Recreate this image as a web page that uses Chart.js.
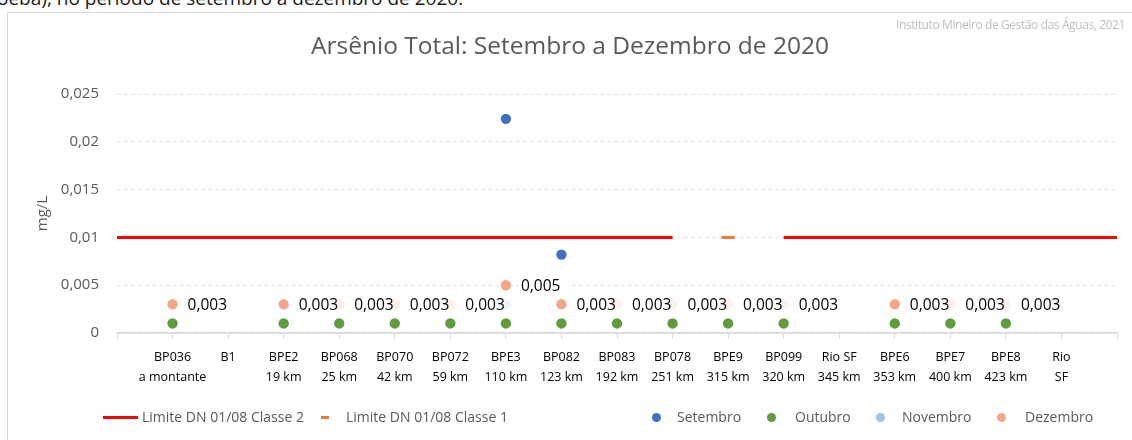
<!DOCTYPE html>
<html><head><meta charset="utf-8">
<script src="https://cdn.jsdelivr.net/npm/chart.js@4.4.0/dist/chart.umd.min.js"></script>
<style>
html,body{margin:0;padding:0;width:1132px;height:440px;overflow:hidden;background:#fff;font-family:'Open Sans',sans-serif;}
#wrap{position:relative;width:1132px;height:440px;overflow:hidden;}
#frame{position:absolute;left:7px;top:12px;width:1140px;height:450px;border:1px solid #D9D9D9;box-sizing:border-box;}
#cv{position:absolute;left:0;top:0;}
#toptext{position:absolute;left:-3px;top:-11px;font-size:19px;line-height:19px;color:#1a1a1a;white-space:nowrap;}
#title{position:absolute;left:0;width:1140px;text-align:center;top:29px;font-size:24.5px;line-height:32px;color:#595959;white-space:nowrap;}
#source{position:absolute;right:7px;top:16px;font-size:12px;line-height:18px;color:#BFBFBF;white-space:nowrap;letter-spacing:-0.4px;}
.lg{position:absolute;top:407px;font-size:14px;line-height:20px;color:#595959;white-space:nowrap;}
.sw{position:absolute;}
</style>
</head><body>
<div id="wrap">
<div id="frame"></div>
<div id="toptext">oeba), no período de setembro a dezembro de 2020.</div>
<canvas id="cv" width="1132" height="440"></canvas>
<div id="title">Arsênio Total: Setembro a Dezembro de 2020</div>
<div id="source">Instituto Mineiro de Gestão das Águas, 2021</div>
<div id="legend"></div>
</div>
<script>
// ---- data ----
const categories = [
  ['', ''], ['BP036', 'a montante'], ['B1', ''], ['BPE2', '19 km'], ['BP068', '25 km'],
  ['BP070', '42 km'], ['BP072', '59 km'], ['BPE3', '110 km'], ['BP082', '123 km'],
  ['BP083', '192 km'], ['BP078', '251 km'], ['BPE9', '315 km'], ['BP099', '320 km'],
  ['Rio SF', '345 km'], ['BPE6', '353 km'], ['BPE7', '400 km'], ['BPE8', '423 km'],
  ['Rio', 'SF'], ['', '']
];
const limiteClasse2 = [0.01, 0.01, 0.01, 0.01, 0.01, 0.01, 0.01, 0.01, 0.01, 0.01, 0.01, null, 0.01, 0.01, 0.01, 0.01, 0.01, 0.01, 0.01];
const limiteClasse1 = [null, null, null, null, null, null, null, null, null, null, null, 0.01, null, null, null, null, null, null, null];
const setembro = [null, null, null, null, null, null, null, 0.0224, 0.0082, null, null, null, null, null, null, null, null, null, null];
const outubro  = [null, 0.001, null, 0.001, 0.001, 0.001, 0.001, 0.001, 0.001, 0.001, 0.001, 0.001, 0.001, null, 0.001, 0.001, 0.001, null, null];
const novembro = [null, null, null, null, null, null, null, 0.003, null, null, null, null, null, null, null, null, null, null, null];
const dezembro = [null, 0.003, null, 0.003, 0.003, 0.003, 0.003, 0.005, 0.003, 0.003, 0.003, 0.003, 0.003, null, 0.003, 0.003, 0.003, null, null];
const yTickLabels = ['0', '0,005', '0,01', '0,015', '0,02', '0,025'];

const C = {
  classe2: '#FF0000', classe1: '#ED7D31',
  set: '#4170C0', out: '#5E9C3C', nov: '#9DC3E6', dez: '#F2A68A'
};

const labelPlugin = {
  id: 'dezLabels',
  afterDatasetsDraw(chart) {
    const ctx = chart.ctx;
    const idx = chart.data.datasets.findIndex(d => d.label === 'Dezembro');
    const meta = chart.getDatasetMeta(idx);
    ctx.save();
    ctx.font = '15.5px "Open Sans"';
    ctx.textBaseline = 'middle';
    meta.data.forEach((el, i) => {
      const v = dezembro[i];
      if (v == null) return;
      const t = String(v).replace('.', ',');
      const x = el.x + 15, y = el.y + 1;
      const w = ctx.measureText(t).width;
      ctx.fillStyle = 'rgba(255,255,255,0.82)';
      ctx.fillRect(x - 3, y - 9, w + 10, 18);
      ctx.fillStyle = '#000';
      ctx.fillText(t, x, y);
    });
    ctx.restore();
  }
};

function pts(label, data, color, order) {
  return { type: 'line', label, data, showLine: false, order,
    pointRadius: 5.2, pointHoverRadius: 5.2, pointBackgroundColor: color,
    pointBorderColor: color, pointBorderWidth: 0, borderColor: color, backgroundColor: color };
}

new Chart(document.getElementById('cv'), {
  type: 'line',
  data: {
    labels: categories,
    datasets: [
      { label: 'Limite DN 01/08 Classe 2', data: limiteClasse2, borderColor: C.classe2, borderWidth: 3,
        pointRadius: 0, spanGaps: false, order: 10, fill: false },
      { label: 'Limite DN 01/08 Classe 1', data: limiteClasse1, showLine: false, pointStyle: 'line',
        pointRadius: 6.5, pointBorderWidth: 3, pointBorderColor: C.classe1, borderColor: C.classe1, order: 9 },
      pts('Setembro', setembro, C.set, 4),
      pts('Outubro', outubro, C.out, 3),
      pts('Novembro', novembro, C.nov, 2),
      pts('Dezembro', dezembro, C.dez, 1)
    ]
  },
  options: {
    responsive: false, animation: false,
    layout: { padding: { left: 0, right: 15, top: 94, bottom: 0 } },
    plugins: { legend: { display: false }, tooltip: { enabled: false }, title: { display: false } },
    scales: {
      x: {
        grid: { drawOnChartArea: false, drawTicks: true, tickLength: 6, color: '#D9D9D9' },
        border: { display: true, color: '#D9D9D9', width: 1.5 },
        ticks: { autoSkip: false, maxRotation: 0, minRotation: 0, padding: 8, color: '#000',
          font: { family: 'Open Sans', size: 12.5, lineHeight: 1.6 } },
        afterFit(s) { s.height = 107; }
      },
      y: {
        min: 0, max: 0.025,
        grid: { color: '#E3E3E3', drawTicks: false },
        border: { display: false, dash: [4, 3] },
        ticks: { stepSize: 0.005, padding: 18, color: '#595959', font: { family: 'Open Sans', size: 15 },
          callback: (v, i) => yTickLabels[i] },
        title: { display: true, text: 'mg/L', color: '#595959', font: { family: 'Open Sans', size: 15 },
          padding: { top: 34, bottom: 0 } },
        afterFit(s) { s.width = 117; }
      }
    }
  },
  plugins: [labelPlugin]
});

// ---- legend (HTML) ----
const legendItems = [
  { kind: 'line', color: C.classe2, text: 'Limite DN 01/08 Classe 2', sx: 103, tx: 142 },
  { kind: 'dash', color: C.classe1, text: 'Limite DN 01/08 Classe 1', sx: 321, tx: 346 },
  { kind: 'dot', color: C.set, text: 'Setembro', sx: 656, tx: 677 },
  { kind: 'dot', color: C.out, text: 'Outubro', sx: 771, tx: 795 },
  { kind: 'dot', color: C.nov, text: 'Novembro', sx: 880, tx: 902 },
  { kind: 'dot', color: C.dez, text: 'Dezembro', sx: 1001, tx: 1025 }
];
const lg = document.getElementById('legend');
legendItems.forEach(it => {
  const sw = document.createElement('div');
  sw.className = 'sw';
  if (it.kind === 'line') { Object.assign(sw.style, { left: it.sx + 'px', top: '416px', width: '35px', height: '3px', background: it.color }); }
  else if (it.kind === 'dash') { Object.assign(sw.style, { left: it.sx + 'px', top: '416px', width: '8px', height: '3px', background: it.color }); }
  else { Object.assign(sw.style, { left: (it.sx - 4.5) + 'px', top: '413px', width: '9px', height: '9px', borderRadius: '50%', background: it.color }); }
  lg.appendChild(sw);
  const t = document.createElement('div');
  t.className = 'lg';
  t.style.left = it.tx + 'px';
  t.textContent = it.text;
  lg.appendChild(t);
});
</script>
</body></html>
